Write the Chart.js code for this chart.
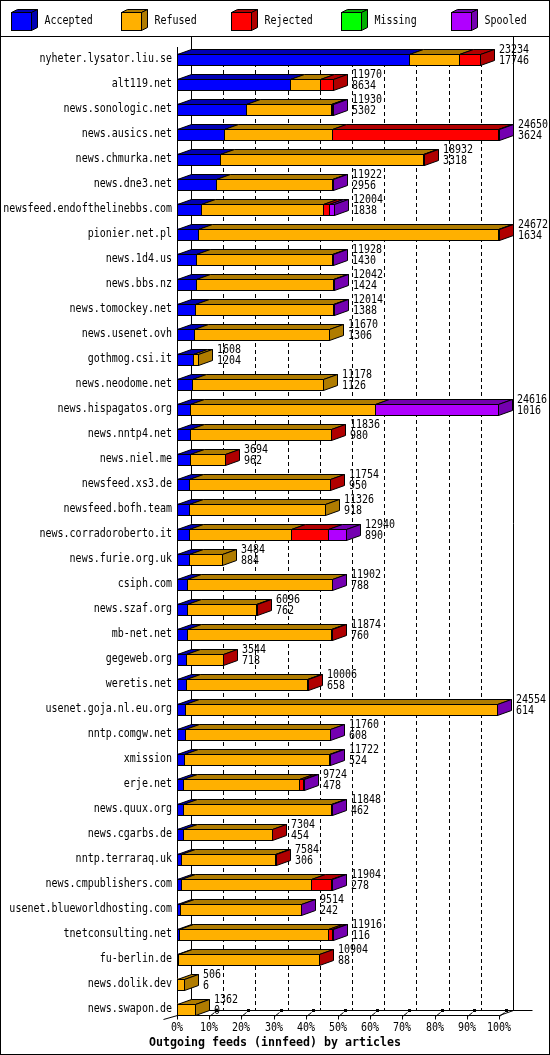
<!DOCTYPE html>
<html>
<head>
<meta charset="utf-8">
<title>Outgoing feeds (innfeed) by articles</title>
<script src="https://cdn.jsdelivr.net/npm/chart.js@4.4.1/dist/chart.umd.min.js"></script>
<style>
  html, body { margin: 0; padding: 0; background: #fff; }
  canvas { display: block; }
</style>
</head>
<body>
<canvas id="chart" width="550" height="1055"></canvas>
<script>
// innfeed outgoing feeds, articles per peer
const hosts = [
  'nyheter.lysator.liu.se', 'alt119.net', 'news.sonologic.net', 'news.ausics.net', 'news.chmurka.net',
  'news.dne3.net', 'newsfeed.endofthelinebbs.com', 'pionier.net.pl', 'news.1d4.us', 'news.bbs.nz',
  'news.tomockey.net', 'news.usenet.ovh', 'gothmog.csi.it', 'news.neodome.net', 'news.hispagatos.org',
  'news.nntp4.net', 'news.niel.me', 'newsfeed.xs3.de', 'newsfeed.bofh.team', 'news.corradoroberto.it',
  'news.furie.org.uk', 'csiph.com', 'news.szaf.org', 'mb-net.net', 'gegeweb.org',
  'weretis.net', 'usenet.goja.nl.eu.org', 'nntp.comgw.net', 'xmission', 'erje.net',
  'news.quux.org', 'news.cgarbs.de', 'nntp.terraraq.uk', 'news.cmpublishers.com', 'usenet.blueworldhosting.com',
  'tnetconsulting.net', 'fu-berlin.de', 'news.dolik.dev', 'news.swapon.de',
];
const totals = [
  23234, 11970, 11930, 24650, 18932, 11922, 12004, 24672, 11928, 12042,
  12014, 11670, 1608, 11178, 24616, 11836, 3694, 11754, 11326, 12940,
  3484, 11902, 6096, 11874, 3544, 10006, 24554, 11760, 11722, 9724,
  11848, 7304, 7584, 11904, 9514, 11916, 10904, 506, 1362,
];
const accepted = [
  17746, 8634, 5302, 3624, 3318, 2956, 1838, 1634, 1430, 1424,
  1388, 1306, 1204, 1126, 1016, 980, 962, 950, 918, 890,
  884, 788, 762, 760, 718, 658, 614, 608, 524, 478,
  462, 454, 306, 278, 242, 116, 88, 6, 0,
];
const refused = [
  3880, 2340, 6480, 8230, 15560, 8926, 9330, 22998, 10458, 10518,
  10586, 10364, 404, 10052, 14126, 10816, 2692, 10764, 10408, 7847,
  2600, 11074, 5294, 11074, 2786, 9308, 23900, 11112, 11158, 8840,
  11346, 6810, 7238, 9998, 9232, 11436, 10776, 500, 1362,
];
const rejected = [
  1608, 996, 110, 12760, 54, 0, 455, 40, 0, 0,
  10, 0, 0, 0, 0, 40, 40, 40, 0, 2843,
  0, 0, 40, 40, 40, 40, 0, 0, 0, 366,
  0, 40, 40, 1560, 0, 307, 40, 0, 0,
];
const missing = [
  0, 0, 0, 0, 0, 0, 0, 0, 0, 0,
  0, 0, 0, 0, 0, 0, 0, 0, 0, 0,
  0, 0, 0, 0, 0, 0, 0, 0, 0, 0,
  0, 0, 0, 0, 0, 0, 0, 0, 0,
];
const spooled = [
  0, 0, 38, 36, 0, 40, 381, 0, 40, 100,
  30, 0, 0, 0, 9474, 0, 0, 0, 0, 1360,
  0, 40, 0, 0, 0, 0, 40, 40, 40, 40,
  40, 0, 0, 68, 40, 57, 0, 0, 0,
];
const tickLabels = ['0%', '10%', '20%', '30%', '40%', '50%', '60%', '70%', '80%', '90%', '100%'];
const title = 'Outgoing feeds (innfeed) by articles';

const series = [
  { label: 'Accepted', data: accepted, front: '#0000ff', dark: '#0000b4' },
  { label: 'Refused', data: refused, front: '#ffb000', dark: '#b07c00' },
  { label: 'Rejected', data: rejected, front: '#ff0000', dark: '#b00000' },
  { label: 'Missing', data: missing, front: '#00ff00', dark: '#00b000' },
  { label: 'Spooled', data: spooled, front: '#b000ff', dark: '#7400b0' },
];

const maxTotal = Math.max(...totals);
const MONO = '"DejaVu Sans Mono", monospace';
const DX = 14; // depth, horizontal
const DY = 5;  // depth, vertical

const poly = (ctx, pts, fill) => {
  ctx.beginPath();
  pts.forEach(([px, py], i) => (i ? ctx.lineTo(px, py) : ctx.moveTo(px, py)));
  ctx.closePath();
  if (fill) { ctx.fillStyle = fill; ctx.fill(); }
  ctx.stroke();
};

const seg = (ctx, x0, y0, x1, y1) => {
  ctx.beginPath();
  ctx.moveTo(x0, y0);
  ctx.lineTo(x1, y1);
  ctx.stroke();
};

// texto estreito, parecido com a fonte do GD
const label = (ctx, s, px, py, align = 'left', font = `11.5px ${MONO}`, sx = 0.87) => {
  ctx.save();
  ctx.translate(px, py);
  ctx.scale(sx, 1);
  ctx.font = font;
  ctx.textAlign = align;
  ctx.textBaseline = 'middle';
  ctx.fillStyle = '#000';
  ctx.fillText(s, 0, 0);
  ctx.restore();
};

// Parede do fundo + chão
const wall = {
  id: 'wall',
  beforeDatasetsDraw(chart) {
    const { ctx, chartArea: area, scales: { x } } = chart;
    const wallBottom = area.bottom - 12 + 0.5;
    const floorFront = area.bottom - 7 + 0.5;
    ctx.save();
    ctx.strokeStyle = '#000';
    ctx.lineWidth = 1;

    tickLabels.forEach((_, k) => {
      const px = Math.round(x.getPixelForValue(maxTotal * k / 10)) + DX + 0.5;
      const solid = k === 0 || k === tickLabels.length - 1;
      ctx.setLineDash(solid ? [] : [4, 3]);
      seg(ctx, px, solid ? 37 : area.top + 2, px, wallBottom);
    });
    ctx.setLineDash([]);

    const x0 = Math.round(x.getPixelForValue(0)) + 0.5;
    const x100 = Math.round(x.getPixelForValue(maxTotal)) + 0.5;
    seg(ctx, x0 + DX, wallBottom, x100 + DX + 19, wallBottom);
    seg(ctx, x0, floorFront, x100, floorFront);
    seg(ctx, x100, floorFront, x100 + DX, wallBottom);
    seg(ctx, x0 - 14, floorFront + 4, x0, floorFront);
    seg(ctx, x0, area.top, x0, floorFront + 4);

    // ticks do eixo x
    tickLabels.forEach((_, k) => {
      if (!k) return;
      const px = Math.round(x.getPixelForValue(maxTotal * k / 10)) + 0.5;
      seg(ctx, px, floorFront, px, floorFront + 4);
      seg(ctx, px, floorFront + 1, px + 5, floorFront - 3);
      ctx.fillStyle = '#000';
      ctx.fillRect(px + 5.5, wallBottom - 1.5, 3, 3);
    });
    ctx.restore();
  },
};

// Barras 3D
const bars3d = {
  id: 'bars3d',
  afterDatasetsDraw(chart) {
    const { ctx } = chart;
    const metas = series.map((_, d) => chart.getDatasetMeta(d));
    ctx.save();
    ctx.strokeStyle = '#000';
    ctx.lineWidth = 1;

    hosts.forEach((_, i) => {
      const ref = metas[0].data[i];
      const top = Math.floor(ref.y - ref.height / 2) + 0.5;
      const bottom = top + ref.height;
      let end = Math.round(ref.base) + 0.5;
      let last = null;

      series.forEach((s, d) => {
        if (!s.data[i]) return;
        const el = metas[d].data[i];
        const x0 = Math.round(el.base) + 0.5;
        const x1 = Math.round(el.x) + 0.5;
        last = s;
        end = x1;
        if (x1 <= x0) return;
        poly(ctx, [[x0, top], [x0 + DX, top - DY], [x1 + DX, top - DY], [x1, top]], s.dark);
        ctx.fillStyle = s.front;
        ctx.fillRect(x0, top, x1 - x0, bottom - top);
        ctx.strokeRect(x0, top, x1 - x0, bottom - top);
      });

      if (last) {
        poly(ctx, [[end, top], [end + DX, top - DY], [end + DX, bottom - DY], [end, bottom]], last.dark);
      }

      label(ctx, String(totals[i]), end + 18.5, ref.y - 9);
      label(ctx, String(accepted[i]), end + 18.5, ref.y + 2);
    });
    ctx.restore();
  },
};

// Legenda, rótulos, título, moldura
const decor = {
  id: 'decor',
  afterDraw(chart) {
    const { ctx, width, height, chartArea: area, scales: { x, y } } = chart;
    ctx.save();
    ctx.strokeStyle = '#000';
    ctx.lineWidth = 1;

    hosts.forEach((h, i) => label(ctx, h, area.left - 5, y.getPixelForValue(i), 'right'));

    tickLabels.forEach((t, k) => {
      label(ctx, t, Math.round(x.getPixelForValue(maxTotal * k / 10)), area.bottom + 6, 'center');
    });

    label(ctx, title, width / 2, height - 12, 'center', `bold 12.5px ${MONO}`, 0.93);

    // legenda
    series.forEach((s, n) => {
      const lx = 11.5 + n * 110;
      poly(ctx, [[lx, 12.5], [lx + 6, 9.5], [lx + 26, 9.5], [lx + 20, 12.5]], s.dark);
      poly(ctx, [[lx + 20, 12.5], [lx + 26, 9.5], [lx + 26, 27.5], [lx + 20, 30.5]], s.dark);
      ctx.fillStyle = s.front;
      ctx.fillRect(lx, 12.5, 20, 18);
      ctx.strokeRect(lx, 12.5, 20, 18);
      label(ctx, s.label, lx + 33, 21);
    });

    seg(ctx, 0, 36.5, width, 36.5);
    ctx.strokeRect(0.5, 0.5, width - 1, height - 1);
    ctx.restore();
  },
};

new Chart(document.getElementById('chart'), {
  type: 'bar',
  data: {
    labels: hosts,
    datasets: series.map((s) => ({
      label: s.label,
      data: s.data,
      backgroundColor: s.front,
      borderWidth: 0,
      barThickness: 11,
    })),
  },
  options: {
    indexAxis: 'y',
    responsive: false,
    animation: false,
    devicePixelRatio: 1,
    layout: { padding: { left: 177, right: 51, top: 47, bottom: 33 } },
    scales: {
      x: { stacked: true, min: 0, max: maxTotal, display: false },
      y: { stacked: true, display: false },
    },
    plugins: { legend: { display: false }, tooltip: { enabled: false } },
  },
  plugins: [wall, bars3d, decor],
});
</script>
</body>
</html>
